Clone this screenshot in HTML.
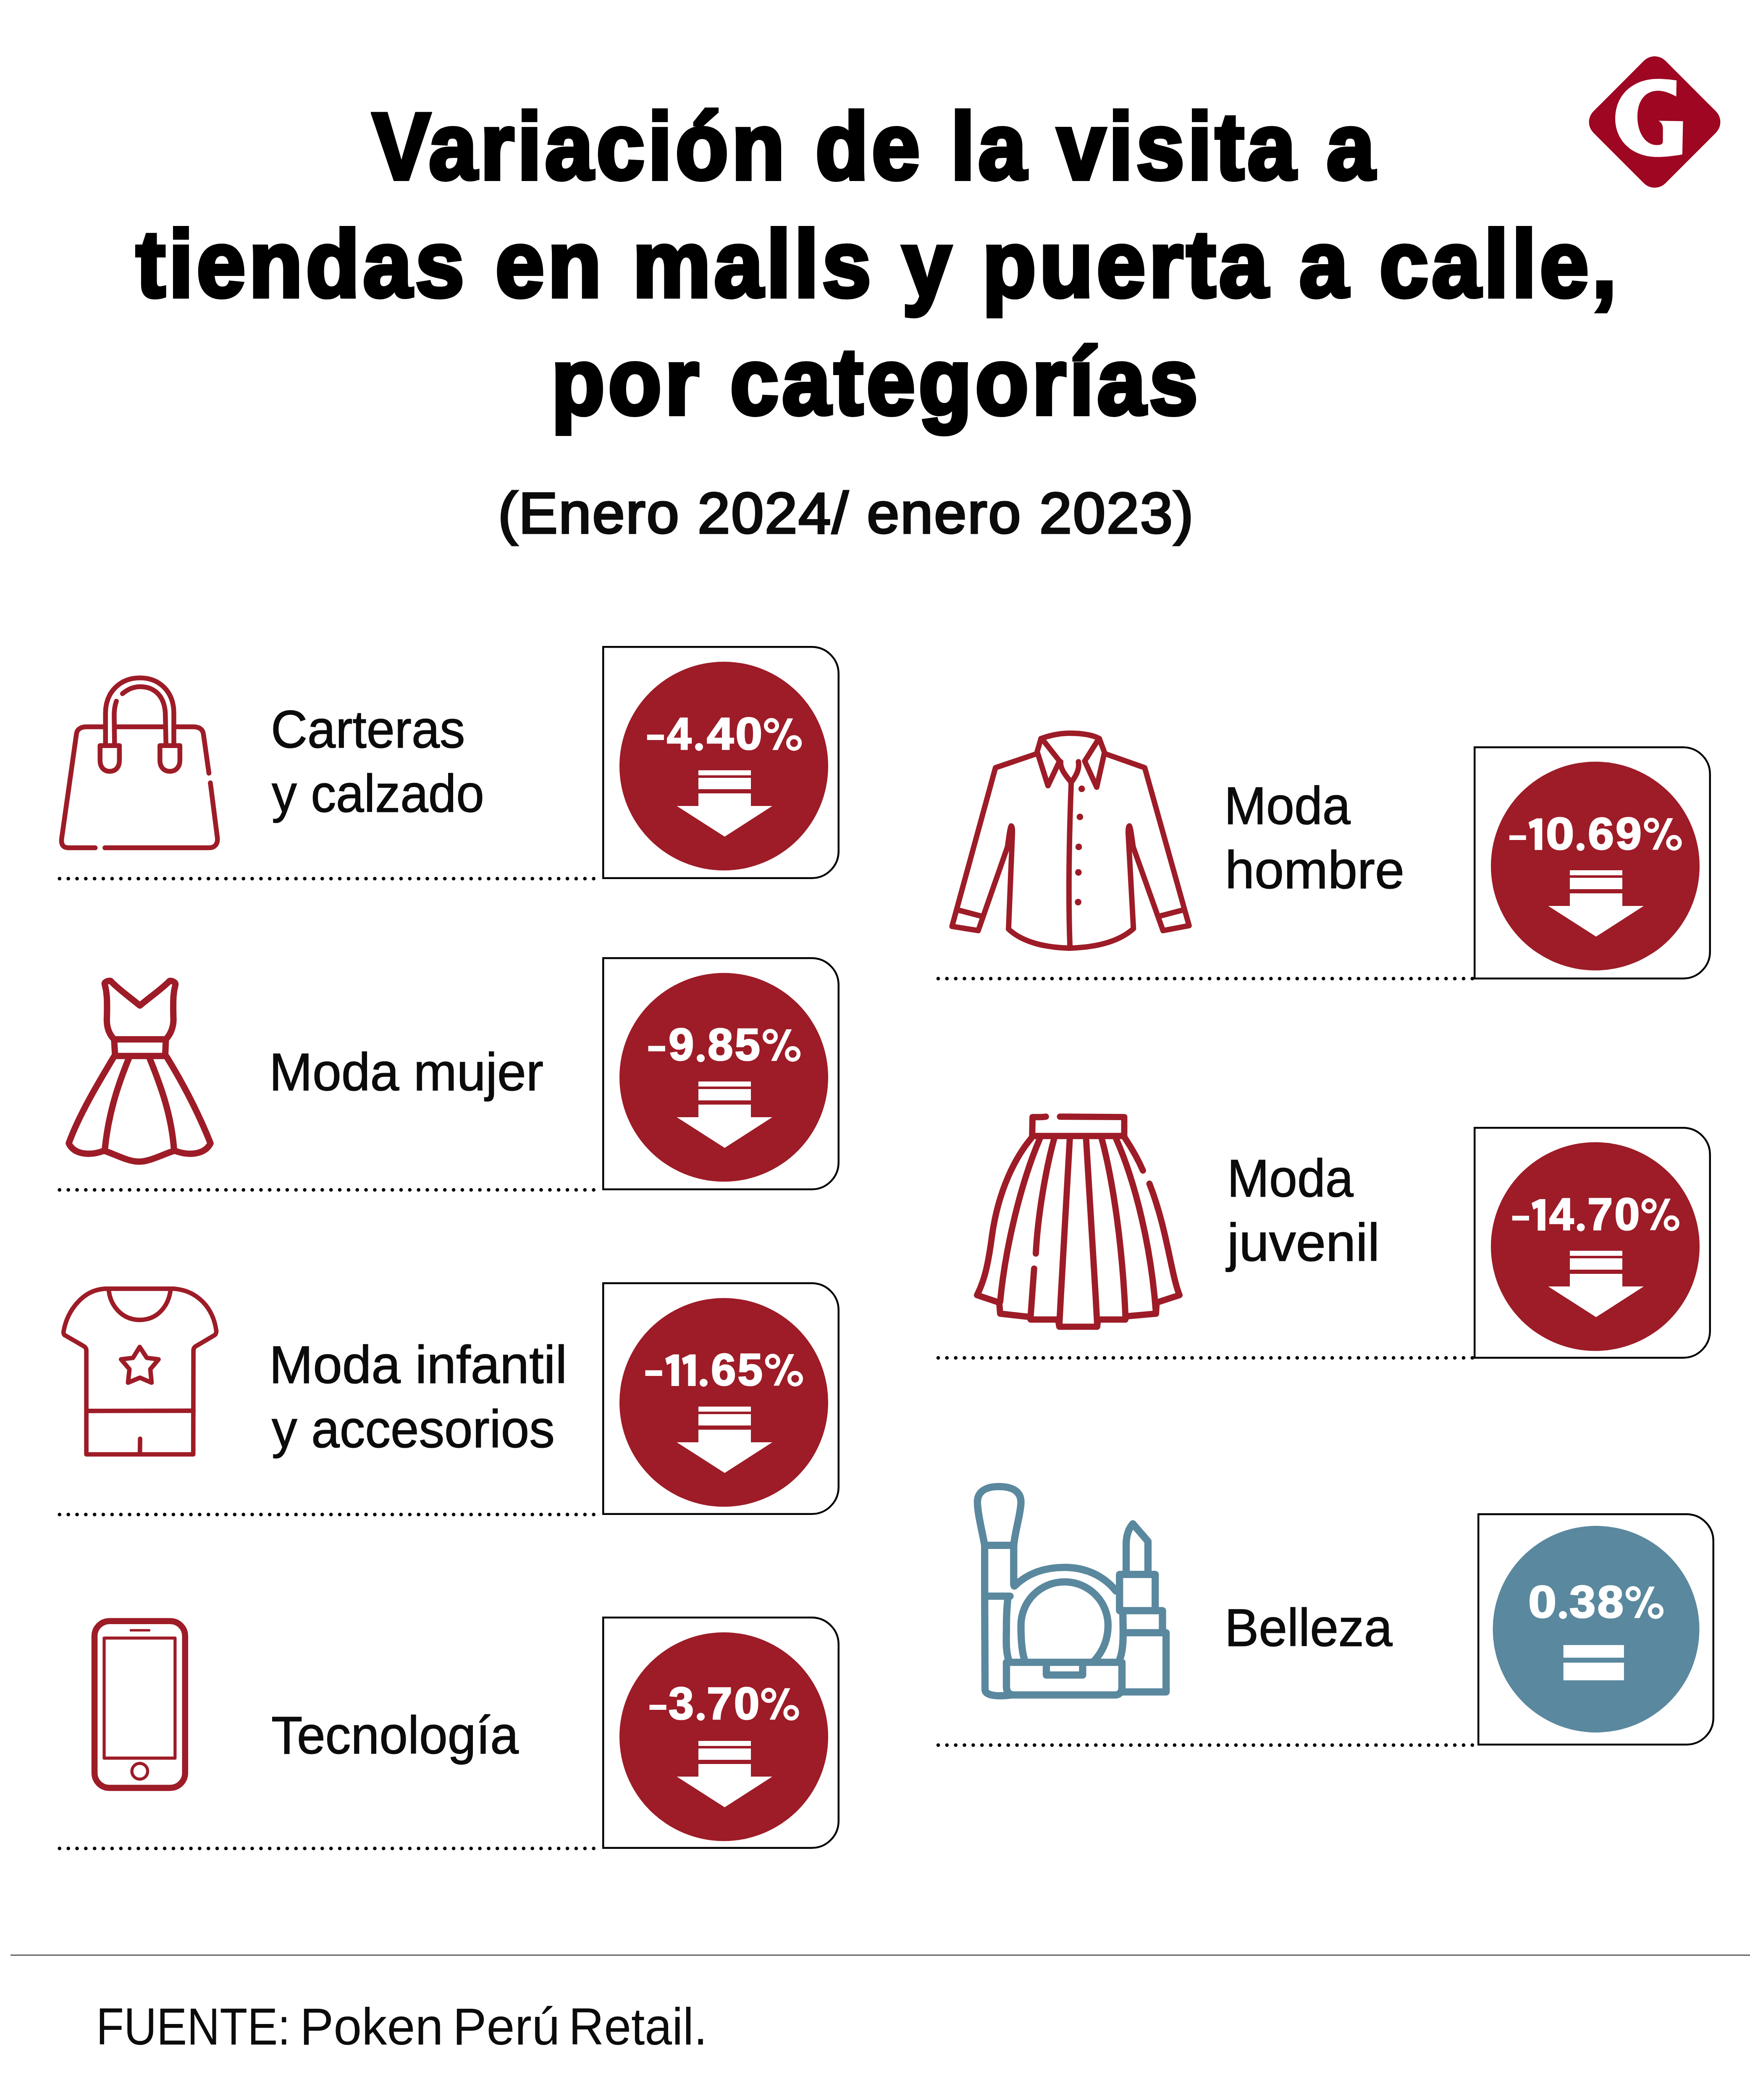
<!DOCTYPE html>
<html><head><meta charset="utf-8"><style>
html,body{margin:0;padding:0;background:#fff}
body{width:4167px;height:5066px;position:relative;overflow:hidden;font-family:"Liberation Sans",sans-serif}
.t{position:absolute;line-height:1;white-space:nowrap;transform-origin:0 0}
svg{overflow:visible}
</style></head><body>
<svg width="4167" height="5066" style="position:absolute;left:0;top:0">
<path d="M1436.25 1540.25 L1932.75 1540.25 A64 64 0 0 1 1996.75 1604.25 L1996.75 2026.75 A64 64 0 0 1 1932.75 2090.75 L1436.25 2090.75 Z" fill="none" stroke="#000" stroke-width="4.5"/><circle cx="1723.5" cy="1824" r="248.5" fill="#9d1c27"/><g fill="#fff"><rect x="1663.0" y="1834" width="125" height="12"/><rect x="1663.0" y="1852" width="125" height="27"/><path d="M1663.0 1889 H1788.0 V1919 H1839.0 L1725.5 1992 L1611.5 1919 H1663.0 Z"/></g><g fill="#000"><circle cx="141.8" cy="2092" r="4.3"/><circle cx="162.7" cy="2092" r="4.3"/><circle cx="183.5" cy="2092" r="4.3"/><circle cx="204.3" cy="2092" r="4.3"/><circle cx="225.2" cy="2092" r="4.3"/><circle cx="246.0" cy="2092" r="4.3"/><circle cx="266.9" cy="2092" r="4.3"/><circle cx="287.8" cy="2092" r="4.3"/><circle cx="308.6" cy="2092" r="4.3"/><circle cx="329.5" cy="2092" r="4.3"/><circle cx="350.3" cy="2092" r="4.3"/><circle cx="371.2" cy="2092" r="4.3"/><circle cx="392.0" cy="2092" r="4.3"/><circle cx="412.9" cy="2092" r="4.3"/><circle cx="433.7" cy="2092" r="4.3"/><circle cx="454.6" cy="2092" r="4.3"/><circle cx="475.4" cy="2092" r="4.3"/><circle cx="496.3" cy="2092" r="4.3"/><circle cx="517.1" cy="2092" r="4.3"/><circle cx="538.0" cy="2092" r="4.3"/><circle cx="558.8" cy="2092" r="4.3"/><circle cx="579.7" cy="2092" r="4.3"/><circle cx="600.5" cy="2092" r="4.3"/><circle cx="621.4" cy="2092" r="4.3"/><circle cx="642.2" cy="2092" r="4.3"/><circle cx="663.1" cy="2092" r="4.3"/><circle cx="683.9" cy="2092" r="4.3"/><circle cx="704.8" cy="2092" r="4.3"/><circle cx="725.6" cy="2092" r="4.3"/><circle cx="746.5" cy="2092" r="4.3"/><circle cx="767.3" cy="2092" r="4.3"/><circle cx="788.2" cy="2092" r="4.3"/><circle cx="809.0" cy="2092" r="4.3"/><circle cx="829.9" cy="2092" r="4.3"/><circle cx="850.7" cy="2092" r="4.3"/><circle cx="871.6" cy="2092" r="4.3"/><circle cx="892.4" cy="2092" r="4.3"/><circle cx="913.3" cy="2092" r="4.3"/><circle cx="934.1" cy="2092" r="4.3"/><circle cx="955.0" cy="2092" r="4.3"/><circle cx="975.8" cy="2092" r="4.3"/><circle cx="996.7" cy="2092" r="4.3"/><circle cx="1017.5" cy="2092" r="4.3"/><circle cx="1038.4" cy="2092" r="4.3"/><circle cx="1059.2" cy="2092" r="4.3"/><circle cx="1080.1" cy="2092" r="4.3"/><circle cx="1100.9" cy="2092" r="4.3"/><circle cx="1121.8" cy="2092" r="4.3"/><circle cx="1142.6" cy="2092" r="4.3"/><circle cx="1163.5" cy="2092" r="4.3"/><circle cx="1184.3" cy="2092" r="4.3"/><circle cx="1205.2" cy="2092" r="4.3"/><circle cx="1226.0" cy="2092" r="4.3"/><circle cx="1246.8" cy="2092" r="4.3"/><circle cx="1267.7" cy="2092" r="4.3"/><circle cx="1288.5" cy="2092" r="4.3"/><circle cx="1309.4" cy="2092" r="4.3"/><circle cx="1330.2" cy="2092" r="4.3"/><circle cx="1351.1" cy="2092" r="4.3"/><circle cx="1371.9" cy="2092" r="4.3"/><circle cx="1392.8" cy="2092" r="4.3"/><circle cx="1413.6" cy="2092" r="4.3"/></g><path d="M1436.25 2281.25 L1932.75 2281.25 A64 64 0 0 1 1996.75 2345.25 L1996.75 2767.75 A64 64 0 0 1 1932.75 2831.75 L1436.25 2831.75 Z" fill="none" stroke="#000" stroke-width="4.5"/><circle cx="1723.5" cy="2565" r="248.5" fill="#9d1c27"/><g fill="#fff"><rect x="1663.0" y="2575" width="125" height="12"/><rect x="1663.0" y="2593" width="125" height="27"/><path d="M1663.0 2630 H1788.0 V2660 H1839.0 L1725.5 2733 L1611.5 2660 H1663.0 Z"/></g><g fill="#000"><circle cx="141.8" cy="2833" r="4.3"/><circle cx="162.7" cy="2833" r="4.3"/><circle cx="183.5" cy="2833" r="4.3"/><circle cx="204.3" cy="2833" r="4.3"/><circle cx="225.2" cy="2833" r="4.3"/><circle cx="246.0" cy="2833" r="4.3"/><circle cx="266.9" cy="2833" r="4.3"/><circle cx="287.8" cy="2833" r="4.3"/><circle cx="308.6" cy="2833" r="4.3"/><circle cx="329.5" cy="2833" r="4.3"/><circle cx="350.3" cy="2833" r="4.3"/><circle cx="371.2" cy="2833" r="4.3"/><circle cx="392.0" cy="2833" r="4.3"/><circle cx="412.9" cy="2833" r="4.3"/><circle cx="433.7" cy="2833" r="4.3"/><circle cx="454.6" cy="2833" r="4.3"/><circle cx="475.4" cy="2833" r="4.3"/><circle cx="496.3" cy="2833" r="4.3"/><circle cx="517.1" cy="2833" r="4.3"/><circle cx="538.0" cy="2833" r="4.3"/><circle cx="558.8" cy="2833" r="4.3"/><circle cx="579.7" cy="2833" r="4.3"/><circle cx="600.5" cy="2833" r="4.3"/><circle cx="621.4" cy="2833" r="4.3"/><circle cx="642.2" cy="2833" r="4.3"/><circle cx="663.1" cy="2833" r="4.3"/><circle cx="683.9" cy="2833" r="4.3"/><circle cx="704.8" cy="2833" r="4.3"/><circle cx="725.6" cy="2833" r="4.3"/><circle cx="746.5" cy="2833" r="4.3"/><circle cx="767.3" cy="2833" r="4.3"/><circle cx="788.2" cy="2833" r="4.3"/><circle cx="809.0" cy="2833" r="4.3"/><circle cx="829.9" cy="2833" r="4.3"/><circle cx="850.7" cy="2833" r="4.3"/><circle cx="871.6" cy="2833" r="4.3"/><circle cx="892.4" cy="2833" r="4.3"/><circle cx="913.3" cy="2833" r="4.3"/><circle cx="934.1" cy="2833" r="4.3"/><circle cx="955.0" cy="2833" r="4.3"/><circle cx="975.8" cy="2833" r="4.3"/><circle cx="996.7" cy="2833" r="4.3"/><circle cx="1017.5" cy="2833" r="4.3"/><circle cx="1038.4" cy="2833" r="4.3"/><circle cx="1059.2" cy="2833" r="4.3"/><circle cx="1080.1" cy="2833" r="4.3"/><circle cx="1100.9" cy="2833" r="4.3"/><circle cx="1121.8" cy="2833" r="4.3"/><circle cx="1142.6" cy="2833" r="4.3"/><circle cx="1163.5" cy="2833" r="4.3"/><circle cx="1184.3" cy="2833" r="4.3"/><circle cx="1205.2" cy="2833" r="4.3"/><circle cx="1226.0" cy="2833" r="4.3"/><circle cx="1246.8" cy="2833" r="4.3"/><circle cx="1267.7" cy="2833" r="4.3"/><circle cx="1288.5" cy="2833" r="4.3"/><circle cx="1309.4" cy="2833" r="4.3"/><circle cx="1330.2" cy="2833" r="4.3"/><circle cx="1351.1" cy="2833" r="4.3"/><circle cx="1371.9" cy="2833" r="4.3"/><circle cx="1392.8" cy="2833" r="4.3"/><circle cx="1413.6" cy="2833" r="4.3"/></g><path d="M1436.25 3055.25 L1932.75 3055.25 A64 64 0 0 1 1996.75 3119.25 L1996.75 3540.75 A64 64 0 0 1 1932.75 3604.75 L1436.25 3604.75 Z" fill="none" stroke="#000" stroke-width="4.5"/><circle cx="1723.5" cy="3339" r="248.5" fill="#9d1c27"/><g fill="#fff"><rect x="1663.0" y="3349" width="125" height="12"/><rect x="1663.0" y="3367" width="125" height="27"/><path d="M1663.0 3404 H1788.0 V3434 H1839.0 L1725.5 3507 L1611.5 3434 H1663.0 Z"/></g><g fill="#000"><circle cx="141.8" cy="3606" r="4.3"/><circle cx="162.7" cy="3606" r="4.3"/><circle cx="183.5" cy="3606" r="4.3"/><circle cx="204.3" cy="3606" r="4.3"/><circle cx="225.2" cy="3606" r="4.3"/><circle cx="246.0" cy="3606" r="4.3"/><circle cx="266.9" cy="3606" r="4.3"/><circle cx="287.8" cy="3606" r="4.3"/><circle cx="308.6" cy="3606" r="4.3"/><circle cx="329.5" cy="3606" r="4.3"/><circle cx="350.3" cy="3606" r="4.3"/><circle cx="371.2" cy="3606" r="4.3"/><circle cx="392.0" cy="3606" r="4.3"/><circle cx="412.9" cy="3606" r="4.3"/><circle cx="433.7" cy="3606" r="4.3"/><circle cx="454.6" cy="3606" r="4.3"/><circle cx="475.4" cy="3606" r="4.3"/><circle cx="496.3" cy="3606" r="4.3"/><circle cx="517.1" cy="3606" r="4.3"/><circle cx="538.0" cy="3606" r="4.3"/><circle cx="558.8" cy="3606" r="4.3"/><circle cx="579.7" cy="3606" r="4.3"/><circle cx="600.5" cy="3606" r="4.3"/><circle cx="621.4" cy="3606" r="4.3"/><circle cx="642.2" cy="3606" r="4.3"/><circle cx="663.1" cy="3606" r="4.3"/><circle cx="683.9" cy="3606" r="4.3"/><circle cx="704.8" cy="3606" r="4.3"/><circle cx="725.6" cy="3606" r="4.3"/><circle cx="746.5" cy="3606" r="4.3"/><circle cx="767.3" cy="3606" r="4.3"/><circle cx="788.2" cy="3606" r="4.3"/><circle cx="809.0" cy="3606" r="4.3"/><circle cx="829.9" cy="3606" r="4.3"/><circle cx="850.7" cy="3606" r="4.3"/><circle cx="871.6" cy="3606" r="4.3"/><circle cx="892.4" cy="3606" r="4.3"/><circle cx="913.3" cy="3606" r="4.3"/><circle cx="934.1" cy="3606" r="4.3"/><circle cx="955.0" cy="3606" r="4.3"/><circle cx="975.8" cy="3606" r="4.3"/><circle cx="996.7" cy="3606" r="4.3"/><circle cx="1017.5" cy="3606" r="4.3"/><circle cx="1038.4" cy="3606" r="4.3"/><circle cx="1059.2" cy="3606" r="4.3"/><circle cx="1080.1" cy="3606" r="4.3"/><circle cx="1100.9" cy="3606" r="4.3"/><circle cx="1121.8" cy="3606" r="4.3"/><circle cx="1142.6" cy="3606" r="4.3"/><circle cx="1163.5" cy="3606" r="4.3"/><circle cx="1184.3" cy="3606" r="4.3"/><circle cx="1205.2" cy="3606" r="4.3"/><circle cx="1226.0" cy="3606" r="4.3"/><circle cx="1246.8" cy="3606" r="4.3"/><circle cx="1267.7" cy="3606" r="4.3"/><circle cx="1288.5" cy="3606" r="4.3"/><circle cx="1309.4" cy="3606" r="4.3"/><circle cx="1330.2" cy="3606" r="4.3"/><circle cx="1351.1" cy="3606" r="4.3"/><circle cx="1371.9" cy="3606" r="4.3"/><circle cx="1392.8" cy="3606" r="4.3"/><circle cx="1413.6" cy="3606" r="4.3"/></g><path d="M1436.25 3851.25 L1932.75 3851.25 A64 64 0 0 1 1996.75 3915.25 L1996.75 4335.75 A64 64 0 0 1 1932.75 4399.75 L1436.25 4399.75 Z" fill="none" stroke="#000" stroke-width="4.5"/><circle cx="1723.5" cy="4135" r="248.5" fill="#9d1c27"/><g fill="#fff"><rect x="1663.0" y="4145" width="125" height="12"/><rect x="1663.0" y="4163" width="125" height="27"/><path d="M1663.0 4200 H1788.0 V4230 H1839.0 L1725.5 4303 L1611.5 4230 H1663.0 Z"/></g><g fill="#000"><circle cx="141.8" cy="4401" r="4.3"/><circle cx="162.7" cy="4401" r="4.3"/><circle cx="183.5" cy="4401" r="4.3"/><circle cx="204.3" cy="4401" r="4.3"/><circle cx="225.2" cy="4401" r="4.3"/><circle cx="246.0" cy="4401" r="4.3"/><circle cx="266.9" cy="4401" r="4.3"/><circle cx="287.8" cy="4401" r="4.3"/><circle cx="308.6" cy="4401" r="4.3"/><circle cx="329.5" cy="4401" r="4.3"/><circle cx="350.3" cy="4401" r="4.3"/><circle cx="371.2" cy="4401" r="4.3"/><circle cx="392.0" cy="4401" r="4.3"/><circle cx="412.9" cy="4401" r="4.3"/><circle cx="433.7" cy="4401" r="4.3"/><circle cx="454.6" cy="4401" r="4.3"/><circle cx="475.4" cy="4401" r="4.3"/><circle cx="496.3" cy="4401" r="4.3"/><circle cx="517.1" cy="4401" r="4.3"/><circle cx="538.0" cy="4401" r="4.3"/><circle cx="558.8" cy="4401" r="4.3"/><circle cx="579.7" cy="4401" r="4.3"/><circle cx="600.5" cy="4401" r="4.3"/><circle cx="621.4" cy="4401" r="4.3"/><circle cx="642.2" cy="4401" r="4.3"/><circle cx="663.1" cy="4401" r="4.3"/><circle cx="683.9" cy="4401" r="4.3"/><circle cx="704.8" cy="4401" r="4.3"/><circle cx="725.6" cy="4401" r="4.3"/><circle cx="746.5" cy="4401" r="4.3"/><circle cx="767.3" cy="4401" r="4.3"/><circle cx="788.2" cy="4401" r="4.3"/><circle cx="809.0" cy="4401" r="4.3"/><circle cx="829.9" cy="4401" r="4.3"/><circle cx="850.7" cy="4401" r="4.3"/><circle cx="871.6" cy="4401" r="4.3"/><circle cx="892.4" cy="4401" r="4.3"/><circle cx="913.3" cy="4401" r="4.3"/><circle cx="934.1" cy="4401" r="4.3"/><circle cx="955.0" cy="4401" r="4.3"/><circle cx="975.8" cy="4401" r="4.3"/><circle cx="996.7" cy="4401" r="4.3"/><circle cx="1017.5" cy="4401" r="4.3"/><circle cx="1038.4" cy="4401" r="4.3"/><circle cx="1059.2" cy="4401" r="4.3"/><circle cx="1080.1" cy="4401" r="4.3"/><circle cx="1100.9" cy="4401" r="4.3"/><circle cx="1121.8" cy="4401" r="4.3"/><circle cx="1142.6" cy="4401" r="4.3"/><circle cx="1163.5" cy="4401" r="4.3"/><circle cx="1184.3" cy="4401" r="4.3"/><circle cx="1205.2" cy="4401" r="4.3"/><circle cx="1226.0" cy="4401" r="4.3"/><circle cx="1246.8" cy="4401" r="4.3"/><circle cx="1267.7" cy="4401" r="4.3"/><circle cx="1288.5" cy="4401" r="4.3"/><circle cx="1309.4" cy="4401" r="4.3"/><circle cx="1330.2" cy="4401" r="4.3"/><circle cx="1351.1" cy="4401" r="4.3"/><circle cx="1371.9" cy="4401" r="4.3"/><circle cx="1392.8" cy="4401" r="4.3"/><circle cx="1413.6" cy="4401" r="4.3"/></g><path d="M3511.25 1779.25 L4007.75 1779.25 A64 64 0 0 1 4071.75 1843.25 L4071.75 2265.75 A64 64 0 0 1 4007.75 2329.75 L3511.25 2329.75 Z" fill="none" stroke="#000" stroke-width="4.5"/><circle cx="3798.5" cy="2062" r="248.5" fill="#9d1c27"/><g fill="#fff"><rect x="3738.0" y="2072" width="125" height="12"/><rect x="3738.0" y="2090" width="125" height="27"/><path d="M3738.0 2127 H3863.0 V2157 H3914.0 L3800.5 2230 L3686.5 2157 H3738.0 Z"/></g><g fill="#000"><circle cx="2234.0" cy="2330" r="4.3"/><circle cx="2254.8" cy="2330" r="4.3"/><circle cx="2275.7" cy="2330" r="4.3"/><circle cx="2296.5" cy="2330" r="4.3"/><circle cx="2317.4" cy="2330" r="4.3"/><circle cx="2338.2" cy="2330" r="4.3"/><circle cx="2359.1" cy="2330" r="4.3"/><circle cx="2379.9" cy="2330" r="4.3"/><circle cx="2400.8" cy="2330" r="4.3"/><circle cx="2421.6" cy="2330" r="4.3"/><circle cx="2442.5" cy="2330" r="4.3"/><circle cx="2463.3" cy="2330" r="4.3"/><circle cx="2484.2" cy="2330" r="4.3"/><circle cx="2505.0" cy="2330" r="4.3"/><circle cx="2525.9" cy="2330" r="4.3"/><circle cx="2546.7" cy="2330" r="4.3"/><circle cx="2567.6" cy="2330" r="4.3"/><circle cx="2588.4" cy="2330" r="4.3"/><circle cx="2609.3" cy="2330" r="4.3"/><circle cx="2630.1" cy="2330" r="4.3"/><circle cx="2651.0" cy="2330" r="4.3"/><circle cx="2671.8" cy="2330" r="4.3"/><circle cx="2692.7" cy="2330" r="4.3"/><circle cx="2713.5" cy="2330" r="4.3"/><circle cx="2734.4" cy="2330" r="4.3"/><circle cx="2755.2" cy="2330" r="4.3"/><circle cx="2776.1" cy="2330" r="4.3"/><circle cx="2796.9" cy="2330" r="4.3"/><circle cx="2817.8" cy="2330" r="4.3"/><circle cx="2838.6" cy="2330" r="4.3"/><circle cx="2859.5" cy="2330" r="4.3"/><circle cx="2880.3" cy="2330" r="4.3"/><circle cx="2901.2" cy="2330" r="4.3"/><circle cx="2922.0" cy="2330" r="4.3"/><circle cx="2942.9" cy="2330" r="4.3"/><circle cx="2963.7" cy="2330" r="4.3"/><circle cx="2984.6" cy="2330" r="4.3"/><circle cx="3005.4" cy="2330" r="4.3"/><circle cx="3026.3" cy="2330" r="4.3"/><circle cx="3047.1" cy="2330" r="4.3"/><circle cx="3068.0" cy="2330" r="4.3"/><circle cx="3088.8" cy="2330" r="4.3"/><circle cx="3109.7" cy="2330" r="4.3"/><circle cx="3130.5" cy="2330" r="4.3"/><circle cx="3151.4" cy="2330" r="4.3"/><circle cx="3172.2" cy="2330" r="4.3"/><circle cx="3193.1" cy="2330" r="4.3"/><circle cx="3213.9" cy="2330" r="4.3"/><circle cx="3234.8" cy="2330" r="4.3"/><circle cx="3255.6" cy="2330" r="4.3"/><circle cx="3276.5" cy="2330" r="4.3"/><circle cx="3297.3" cy="2330" r="4.3"/><circle cx="3318.2" cy="2330" r="4.3"/><circle cx="3339.0" cy="2330" r="4.3"/><circle cx="3359.9" cy="2330" r="4.3"/><circle cx="3380.7" cy="2330" r="4.3"/><circle cx="3401.6" cy="2330" r="4.3"/><circle cx="3422.4" cy="2330" r="4.3"/><circle cx="3443.3" cy="2330" r="4.3"/><circle cx="3464.1" cy="2330" r="4.3"/><circle cx="3485.0" cy="2330" r="4.3"/><circle cx="3505.8" cy="2330" r="4.3"/></g><path d="M3511.25 2685.25 L4007.75 2685.25 A64 64 0 0 1 4071.75 2749.25 L4071.75 3168.75 A64 64 0 0 1 4007.75 3232.75 L3511.25 3232.75 Z" fill="none" stroke="#000" stroke-width="4.5"/><circle cx="3798.5" cy="2968" r="248.5" fill="#9d1c27"/><g fill="#fff"><rect x="3738.0" y="2978" width="125" height="12"/><rect x="3738.0" y="2996" width="125" height="27"/><path d="M3738.0 3033 H3863.0 V3063 H3914.0 L3800.5 3136 L3686.5 3063 H3738.0 Z"/></g><g fill="#000"><circle cx="2234.0" cy="3233" r="4.3"/><circle cx="2254.8" cy="3233" r="4.3"/><circle cx="2275.7" cy="3233" r="4.3"/><circle cx="2296.5" cy="3233" r="4.3"/><circle cx="2317.4" cy="3233" r="4.3"/><circle cx="2338.2" cy="3233" r="4.3"/><circle cx="2359.1" cy="3233" r="4.3"/><circle cx="2379.9" cy="3233" r="4.3"/><circle cx="2400.8" cy="3233" r="4.3"/><circle cx="2421.6" cy="3233" r="4.3"/><circle cx="2442.5" cy="3233" r="4.3"/><circle cx="2463.3" cy="3233" r="4.3"/><circle cx="2484.2" cy="3233" r="4.3"/><circle cx="2505.0" cy="3233" r="4.3"/><circle cx="2525.9" cy="3233" r="4.3"/><circle cx="2546.7" cy="3233" r="4.3"/><circle cx="2567.6" cy="3233" r="4.3"/><circle cx="2588.4" cy="3233" r="4.3"/><circle cx="2609.3" cy="3233" r="4.3"/><circle cx="2630.1" cy="3233" r="4.3"/><circle cx="2651.0" cy="3233" r="4.3"/><circle cx="2671.8" cy="3233" r="4.3"/><circle cx="2692.7" cy="3233" r="4.3"/><circle cx="2713.5" cy="3233" r="4.3"/><circle cx="2734.4" cy="3233" r="4.3"/><circle cx="2755.2" cy="3233" r="4.3"/><circle cx="2776.1" cy="3233" r="4.3"/><circle cx="2796.9" cy="3233" r="4.3"/><circle cx="2817.8" cy="3233" r="4.3"/><circle cx="2838.6" cy="3233" r="4.3"/><circle cx="2859.5" cy="3233" r="4.3"/><circle cx="2880.3" cy="3233" r="4.3"/><circle cx="2901.2" cy="3233" r="4.3"/><circle cx="2922.0" cy="3233" r="4.3"/><circle cx="2942.9" cy="3233" r="4.3"/><circle cx="2963.7" cy="3233" r="4.3"/><circle cx="2984.6" cy="3233" r="4.3"/><circle cx="3005.4" cy="3233" r="4.3"/><circle cx="3026.3" cy="3233" r="4.3"/><circle cx="3047.1" cy="3233" r="4.3"/><circle cx="3068.0" cy="3233" r="4.3"/><circle cx="3088.8" cy="3233" r="4.3"/><circle cx="3109.7" cy="3233" r="4.3"/><circle cx="3130.5" cy="3233" r="4.3"/><circle cx="3151.4" cy="3233" r="4.3"/><circle cx="3172.2" cy="3233" r="4.3"/><circle cx="3193.1" cy="3233" r="4.3"/><circle cx="3213.9" cy="3233" r="4.3"/><circle cx="3234.8" cy="3233" r="4.3"/><circle cx="3255.6" cy="3233" r="4.3"/><circle cx="3276.5" cy="3233" r="4.3"/><circle cx="3297.3" cy="3233" r="4.3"/><circle cx="3318.2" cy="3233" r="4.3"/><circle cx="3339.0" cy="3233" r="4.3"/><circle cx="3359.9" cy="3233" r="4.3"/><circle cx="3380.7" cy="3233" r="4.3"/><circle cx="3401.6" cy="3233" r="4.3"/><circle cx="3422.4" cy="3233" r="4.3"/><circle cx="3443.3" cy="3233" r="4.3"/><circle cx="3464.1" cy="3233" r="4.3"/><circle cx="3485.0" cy="3233" r="4.3"/><circle cx="3505.8" cy="3233" r="4.3"/></g><path d="M3520.25 3605.25 L4015.75 3605.25 A64 64 0 0 1 4079.75 3669.25 L4079.75 4089.75 A64 64 0 0 1 4015.75 4153.75 L3520.25 4153.75 Z" fill="none" stroke="#000" stroke-width="4.5"/><circle cx="3800.5" cy="3879" r="246" fill="#5a889e"/><rect x="3722.7" y="3916.8" width="144.2" height="30" fill="#fff"/><rect x="3722.7" y="3958.7" width="144.2" height="42" fill="#fff"/><g fill="#000"><circle cx="2234.0" cy="4155" r="4.3"/><circle cx="2254.8" cy="4155" r="4.3"/><circle cx="2275.7" cy="4155" r="4.3"/><circle cx="2296.5" cy="4155" r="4.3"/><circle cx="2317.4" cy="4155" r="4.3"/><circle cx="2338.2" cy="4155" r="4.3"/><circle cx="2359.1" cy="4155" r="4.3"/><circle cx="2379.9" cy="4155" r="4.3"/><circle cx="2400.8" cy="4155" r="4.3"/><circle cx="2421.6" cy="4155" r="4.3"/><circle cx="2442.5" cy="4155" r="4.3"/><circle cx="2463.3" cy="4155" r="4.3"/><circle cx="2484.2" cy="4155" r="4.3"/><circle cx="2505.0" cy="4155" r="4.3"/><circle cx="2525.9" cy="4155" r="4.3"/><circle cx="2546.7" cy="4155" r="4.3"/><circle cx="2567.6" cy="4155" r="4.3"/><circle cx="2588.4" cy="4155" r="4.3"/><circle cx="2609.3" cy="4155" r="4.3"/><circle cx="2630.1" cy="4155" r="4.3"/><circle cx="2651.0" cy="4155" r="4.3"/><circle cx="2671.8" cy="4155" r="4.3"/><circle cx="2692.7" cy="4155" r="4.3"/><circle cx="2713.5" cy="4155" r="4.3"/><circle cx="2734.4" cy="4155" r="4.3"/><circle cx="2755.2" cy="4155" r="4.3"/><circle cx="2776.1" cy="4155" r="4.3"/><circle cx="2796.9" cy="4155" r="4.3"/><circle cx="2817.8" cy="4155" r="4.3"/><circle cx="2838.6" cy="4155" r="4.3"/><circle cx="2859.5" cy="4155" r="4.3"/><circle cx="2880.3" cy="4155" r="4.3"/><circle cx="2901.2" cy="4155" r="4.3"/><circle cx="2922.0" cy="4155" r="4.3"/><circle cx="2942.9" cy="4155" r="4.3"/><circle cx="2963.7" cy="4155" r="4.3"/><circle cx="2984.6" cy="4155" r="4.3"/><circle cx="3005.4" cy="4155" r="4.3"/><circle cx="3026.3" cy="4155" r="4.3"/><circle cx="3047.1" cy="4155" r="4.3"/><circle cx="3068.0" cy="4155" r="4.3"/><circle cx="3088.8" cy="4155" r="4.3"/><circle cx="3109.7" cy="4155" r="4.3"/><circle cx="3130.5" cy="4155" r="4.3"/><circle cx="3151.4" cy="4155" r="4.3"/><circle cx="3172.2" cy="4155" r="4.3"/><circle cx="3193.1" cy="4155" r="4.3"/><circle cx="3213.9" cy="4155" r="4.3"/><circle cx="3234.8" cy="4155" r="4.3"/><circle cx="3255.6" cy="4155" r="4.3"/><circle cx="3276.5" cy="4155" r="4.3"/><circle cx="3297.3" cy="4155" r="4.3"/><circle cx="3318.2" cy="4155" r="4.3"/><circle cx="3339.0" cy="4155" r="4.3"/><circle cx="3359.9" cy="4155" r="4.3"/><circle cx="3380.7" cy="4155" r="4.3"/><circle cx="3401.6" cy="4155" r="4.3"/><circle cx="3422.4" cy="4155" r="4.3"/><circle cx="3443.3" cy="4155" r="4.3"/><circle cx="3464.1" cy="4155" r="4.3"/><circle cx="3485.0" cy="4155" r="4.3"/><circle cx="3505.8" cy="4155" r="4.3"/></g><rect x="1540.8" y="1749" width="40.1" height="13.0" fill="#fff"/><rect x="1543.6" y="2490.2" width="40.2" height="13.0" fill="#fff"/><rect x="1536.5" y="3262.6" width="40.2" height="13.4" fill="#fff"/><rect x="1546.5" y="4059" width="40.1" height="12.0" fill="#fff"/><rect x="3594" y="1988.8" width="39.7" height="11.2" fill="#fff"/><rect x="3600.8" y="2894.6" width="40.0" height="11.4" fill="#fff"/><circle cx="1837.0" cy="1727.6" r="13.4" fill="none" stroke="#fff" stroke-width="9.2"/><circle cx="1890.6" cy="1769.1" r="13.95" fill="none" stroke="#fff" stroke-width="9.3"/><path d="M1839.2 1785.7 L1852.0 1785.7 L1888.3 1710.5 L1875.2 1710.5 Z" fill="#fff"/><circle cx="1834.0" cy="2467.8" r="13.4" fill="none" stroke="#fff" stroke-width="9.2"/><circle cx="1887.6" cy="2509.3" r="13.95" fill="none" stroke="#fff" stroke-width="9.3"/><path d="M1836.2 2525.9 L1849.0 2525.9 L1885.3 2450.7 L1872.2 2450.7 Z" fill="#fff"/><circle cx="1839.8" cy="3241.2" r="13.4" fill="none" stroke="#fff" stroke-width="9.2"/><circle cx="1893.4" cy="3282.7" r="13.95" fill="none" stroke="#fff" stroke-width="9.3"/><path d="M1842.0 3299.3 L1854.8 3299.3 L1891.1 3224.1 L1878.0 3224.1 Z" fill="#fff"/><circle cx="1830.4" cy="4036.5" r="13.4" fill="none" stroke="#fff" stroke-width="9.2"/><circle cx="1884.0" cy="4078.0" r="13.95" fill="none" stroke="#fff" stroke-width="9.3"/><path d="M1832.6 4094.6 L1845.4 4094.6 L1881.7 4019.4 L1868.6 4019.4 Z" fill="#fff"/><circle cx="3932.4" cy="1965.1" r="13.4" fill="none" stroke="#fff" stroke-width="9.2"/><circle cx="3986.0" cy="2006.6" r="13.95" fill="none" stroke="#fff" stroke-width="9.3"/><path d="M3934.6 2023.2 L3947.4 2023.2 L3983.7 1948.0 L3970.6 1948.0 Z" fill="#fff"/><circle cx="3926.6" cy="2870.9" r="13.4" fill="none" stroke="#fff" stroke-width="9.2"/><circle cx="3980.2" cy="2912.4" r="13.95" fill="none" stroke="#fff" stroke-width="9.3"/><path d="M3928.8 2929.0 L3941.6 2929.0 L3977.9 2853.8 L3964.8 2853.8 Z" fill="#fff"/><circle cx="3888.9" cy="3794.5" r="13.4" fill="none" stroke="#fff" stroke-width="9.2"/><circle cx="3942.5" cy="3836.0" r="13.95" fill="none" stroke="#fff" stroke-width="9.3"/><path d="M3891.1 3852.6 L3903.9 3852.6 L3940.2 3777.4 L3927.1 3777.4 Z" fill="#fff"/><circle cx="1664.5" cy="1778.4" r="9.5" fill="#fff"/><circle cx="1668.6" cy="2519.5" r="9.5" fill="#fff"/><circle cx="1675.4" cy="3292.3" r="9.5" fill="#fff"/><circle cx="1668.6" cy="4087.4" r="9.5" fill="#fff"/><circle cx="3763.5" cy="2016.5" r="9.5" fill="#fff"/><circle cx="3764.1" cy="2922.2" r="9.5" fill="#fff"/><circle cx="3721.6" cy="3845.2" r="9.5" fill="#fff"/><path fill="#fff" d="M1584.1 3234.0 L1603.2 3224.7 L1616.7 3224.7 L1616.7 3299.9 L1598.7 3299.9 L1598.7 3245.0 L1588.2 3249.7 Z"/><path fill="#fff" d="M1623.8 3234.0 L1642.9 3224.7 L1656.4 3224.7 L1656.4 3299.9 L1638.4 3299.9 L1638.4 3245.0 L1627.9 3249.7 Z"/><path fill="#fff" d="M3639.7 1957.9 L3658.8 1948.6 L3672.3 1948.6 L3672.3 2023.8 L3654.3 2023.8 L3654.3 1968.9 L3643.8 1973.6 Z"/><path fill="#fff" d="M3647.0 2864.2 L3666.1 2854.9 L3679.6 2854.9 L3679.6 2930.1 L3661.6 2930.1 L3661.6 2875.2 L3651.1 2879.9 Z"/><rect x="25" y="4654" width="4142" height="2" fill="#1a1a1a"/>
</svg>
<!-- bag -->
<svg style="position:absolute;left:100px;top:1560px" width="500" height="560" viewBox="0 0 1736 1944">
<g fill="none" stroke="#9d1c27" stroke-width="40" stroke-linecap="round" stroke-linejoin="round">
<path d="M440 1592 L215 1592 C172 1590 158 1562 162 1520 L285 650 C290 612 320 592 370 592 L505 592"/>
<path d="M615 592 L1000 592"/>
<path d="M1110 592 L1250 592 C1300 592 1330 612 1335 655 L1380 975"/>
<path d="M1392 1055 L1450 1510 C1455 1560 1430 1592 1380 1592 L520 1592"/>
<path d="M525 735 L525 480 C525 300 650 187 810 187 C970 187 1090 300 1090 480 L1090 735"/>
<path d="M665 318 C710 280 760 260 810 260 C940 260 1020 350 1020 500 L1025 735"/>
<path d="M615 380 C600 420 595 460 597 520 L600 735"/>
<path d="M480 747 L640 747 L640 870 C640 930 605 960 560 960 C515 960 480 930 480 870 Z"/>
<path d="M975 747 L1140 747 L1140 870 C1140 930 1100 960 1057 960 C1012 960 975 930 975 870 Z"/>
</g></svg>
<!-- dress -->
<svg style="position:absolute;left:130px;top:2310px" width="410" height="490" viewBox="0 0 1736 2075">
<g fill="none" stroke="#9d1c27" stroke-width="64" stroke-linecap="round" stroke-linejoin="round">
<path d="M505 140 C498 118 540 105 565 108 C640 190 760 272 860 357 C960 272 1080 190 1160 108 C1185 105 1222 120 1218 148 C1198 220 1193 280 1198 480 C1203 560 1175 640 1122 697 L600 697 C545 640 522 570 527 480 C532 280 527 220 505 140 Z"/>
<path d="M600 697 L610 865 L1115 865 L1122 697"/>
<path d="M600 870 C450 1120 250 1450 143 1745 C190 1850 340 1880 500 1820 C620 1860 740 1930 850 1930 C960 1930 1080 1860 1210 1820 C1370 1880 1520 1850 1572 1745 C1450 1440 1300 1150 1128 870"/>
<path d="M752 880 C640 1150 540 1450 505 1820"/>
<path d="M955 880 C1060 1140 1180 1450 1205 1820"/>
</g></svg>
<!-- tshirt -->
<svg style="position:absolute;left:130px;top:3050px" width="410" height="430" viewBox="0 0 1736 1821">
<g fill="none" stroke="#9d1c27" stroke-width="45" stroke-linecap="round" stroke-linejoin="round">
<path d="M320 1748 L320 700 C320 680 310 665 290 655 L100 545 C90 535 88 520 92 500 C130 300 280 90 510 78 L1210 78 C1450 100 1600 280 1630 500 C1632 520 1625 540 1610 548 L1420 660 C1405 670 1400 680 1400 700 L1398 1748 Z"/>
<path d="M545 85 C560 250 680 392 860 392 C1040 392 1150 250 1170 85"/>
<path d="M322 1310 L1400 1308"/>
<path d="M860 1748 L862 1590"/>
<path d="M858 665 L930 775 L1048 790 L965 890 L978 1025 L860 975 L740 1025 L755 890 L670 790 L790 775 Z"/>
</g></svg>
<!-- phone -->
<svg style="position:absolute;left:200px;top:3840px" width="270" height="440" viewBox="0 0 1295 2111">
<g fill="none" stroke="#9d1c27" stroke-linecap="round" stroke-linejoin="round">
<rect x="120" y="95" width="1035" height="1905" rx="170" ry="170" stroke-width="70"/>
<rect x="230" y="288" width="810" height="1372" stroke-width="35"/>
<path d="M535 200 L745 200" stroke-width="28"/>
<circle cx="637" cy="1810" r="90" stroke-width="35"/>
</g></svg>
<!-- shirt -->
<svg style="position:absolute;left:2240px;top:1720px" width="620" height="560" viewBox="0 0 1736 1568">
<g fill="none" stroke="#9d1c27" stroke-width="36" stroke-linecap="round" stroke-linejoin="round">
<path d="M668 108 C740 82 800 72 860 72 C950 72 1010 82 1058 108"/>
<path d="M668 110 L643 195 L715 422 L792 258 L690 128"/>
<path d="M1058 110 L1092 200 L1040 432 L960 258 L1042 128"/>
<path d="M800 262 C795 300 820 340 870 400 C915 340 925 300 918 262"/>
<path d="M870 400 C855 800 850 1200 862 1505"/>
<path d="M630 212 L365 302 L75 1360 L250 1388 L445 830 C455 760 462 700 470 690 C478 692 478 720 478 740 L452 1378 C550 1470 700 1500 862 1505 C1020 1500 1180 1470 1285 1375 L1250 740 C1250 720 1250 692 1258 690 C1266 700 1273 760 1283 830 L1482 1388 L1656 1355 L1360 302 L1105 212"/>
<path d="M112 1250 L265 1290"/>
<path d="M1465 1290 L1618 1250"/>
</g>
<g fill="#9d1c27">
<circle cx="940" cy="443" r="22"/><circle cx="928" cy="630" r="22"/><circle cx="920" cy="830" r="22"/><circle cx="918" cy="1000" r="22"/><circle cx="916" cy="1198" r="22"/>
</g></svg>
<!-- skirt -->
<svg style="position:absolute;left:2300px;top:2630px" width="540" height="560" viewBox="0 0 1736 1800">
<g fill="none" stroke="#9d1c27" stroke-width="48" stroke-linecap="round" stroke-linejoin="round">
<path d="M612 92 C580 98 540 95 510 95 L507 240 L1212 240 L1212 95 L720 92"/>
<path d="M502 255 C380 400 250 650 200 1000 C170 1230 140 1350 85 1458 L255 1515 L262 1600 L485 1625 L495 1645 L705 1645 L715 1700 L1005 1700 L1010 1645 L1220 1645 L1230 1620 L1455 1600 L1460 1515 L1635 1458 C1570 1300 1540 950 1405 605"/>
<path d="M1215 252 C1260 320 1310 400 1355 505"/>
<path d="M565 262 C420 600 300 1100 262 1510"/>
<path d="M675 262 C610 500 550 850 535 1140"/>
<path d="M522 1255 L495 1625"/>
<path d="M795 262 C770 700 740 1200 715 1690"/>
<path d="M920 262 C945 700 980 1200 1005 1690"/>
<path d="M1040 262 C1130 600 1200 1100 1222 1635"/>
<path d="M1150 262 C1300 600 1420 1100 1455 1600"/>
</g></svg>
<!-- cosmetics -->
<svg style="position:absolute;left:2300px;top:3510px" width="500" height="560" viewBox="0 0 1736 1944">
<g fill="none" stroke="#5a889e" stroke-width="60" stroke-linecap="round" stroke-linejoin="round">
<path d="M155 588 C130 450 95 320 95 230 C95 140 170 102 270 102 C380 102 455 140 455 230 C455 320 410 450 395 588 Z"/>
<path d="M395 588 L395 915"/>
<path d="M155 588 L155 1010 L158 1780 C160 1830 250 1840 380 1825"/>
<path d="M155 1008 L365 1008"/>
<path d="M400 925 C520 810 660 770 815 770 C990 770 1140 840 1240 965"/>
<path d="M360 1555 C325 1460 335 1380 335 1250 C335 1150 340 1090 345 1040"/>
<path d="M1262 1555 C1290 1490 1300 1430 1300 1300 L1297 1128"/>
<path d="M490 1550 C470 1500 455 1420 455 1250 C455 1050 615 890 815 890 C1015 890 1175 1050 1175 1250 C1175 1380 1120 1480 1055 1550"/>
<path d="M335 1555 L1290 1555 L1290 1760 C1290 1800 1270 1825 1230 1825 L400 1825 C360 1825 335 1800 335 1760 Z"/>
<path d="M665 1555 L665 1660 L965 1660 L965 1555"/>
<path d="M1325 828 L1325 580 C1325 510 1345 450 1380 410 L1505 555 L1505 828"/>
<path d="M1270 1128 L1270 828 L1565 828 L1565 1128"/>
<path d="M1297 1128 L1625 1128 L1625 1310"/>
<path d="M1300 1310 L1655 1310 L1655 1800 L1290 1800"/>
</g></svg>

<div style="position:absolute;left:3750px;top:100px;width:417px;height:400px">
<svg width="417" height="400" viewBox="0 0 1736 1665" style="position:absolute;left:0;top:0">
<rect x="286.5" y="288.5" width="1009" height="1009" rx="150" ry="150" fill="#9e0621" transform="rotate(45 791 793)"/>
<path fill="#fff" d="M1008 380 L1005 540 C940 505 880 483 825 483 C700 483 620 580 620 740 C620 900 700 1020 810 1022 C850 1022 870 1015 872 990 L873 860 C873 820 855 795 830 780 L1072 785 L1065 1115 C990 1128 900 1140 820 1140 C560 1140 400 970 400 760 C400 520 580 365 820 365 C880 365 950 372 1008 380 Z"/>
</svg></div>
<div class="t" style="left:886.7px;top:236.2px;font-size:225.45px;font-weight:bold;color:#000;-webkit-text-stroke:10px #000;letter-spacing:9px;transform:scaleX(0.9132)">Variación de la visita a</div><div class="t" style="left:323.9px;top:515.7px;font-size:225.45px;font-weight:bold;color:#000;-webkit-text-stroke:10px #000;letter-spacing:9px;transform:scaleX(0.9263)">tiendas en malls y puerta a calle,</div><div class="t" style="left:1312.6px;top:795.7px;font-size:225.45px;font-weight:bold;color:#000;-webkit-text-stroke:10px #000;letter-spacing:9px;transform:scaleX(0.9212)">por categorías</div><div class="t" style="left:1185.8px;top:1153.8px;font-size:136.73px;font-weight:normal;color:#0b0b0b;-webkit-text-stroke:5px #0b0b0b;letter-spacing:3px;transform:scaleX(1.0125)">(Enero 2024/ enero 2023)</div><div class="t" style="left:645.1px;top:1672.9px;font-size:126.82px;font-weight:normal;color:#0b0b0b;-webkit-text-stroke:1.5px #0b0b0b;letter-spacing:0px;transform:scaleX(0.9509)">Carteras</div><div class="t" style="left:646.7px;top:1825.9px;font-size:126.82px;font-weight:normal;color:#0b0b0b;-webkit-text-stroke:1.5px #0b0b0b;letter-spacing:0px;transform:scaleX(0.9444)">y calzado</div><div class="t" style="left:641.1px;top:2488.7px;font-size:126.82px;font-weight:normal;color:#0b0b0b;-webkit-text-stroke:1.5px #0b0b0b;letter-spacing:0px;transform:scaleX(0.9753)">Moda mujer</div><div class="t" style="left:641.0px;top:3186.4px;font-size:126.82px;font-weight:normal;color:#0b0b0b;-webkit-text-stroke:1.5px #0b0b0b;letter-spacing:0px;transform:scaleX(0.9864)">Moda infantil</div><div class="t" style="left:646.7px;top:3338.9px;font-size:126.82px;font-weight:normal;color:#0b0b0b;-webkit-text-stroke:1.5px #0b0b0b;letter-spacing:0px;transform:scaleX(0.9560)">y accesorios</div><div class="t" style="left:646.0px;top:4068.2px;font-size:126.82px;font-weight:normal;color:#0b0b0b;-webkit-text-stroke:1.5px #0b0b0b;letter-spacing:0px;transform:scaleX(0.9602)">Tecnología</div><div class="t" style="left:2915.4px;top:1855.4px;font-size:126.82px;font-weight:normal;color:#0b0b0b;-webkit-text-stroke:1.5px #0b0b0b;letter-spacing:0px;transform:scaleX(0.9478)">Moda</div><div class="t" style="left:2916.9px;top:2008.4px;font-size:126.82px;font-weight:normal;color:#0b0b0b;-webkit-text-stroke:1.5px #0b0b0b;letter-spacing:0px;transform:scaleX(0.9929)">hombre</div><div class="t" style="left:2922.4px;top:2741.9px;font-size:126.82px;font-weight:normal;color:#0b0b0b;-webkit-text-stroke:1.5px #0b0b0b;letter-spacing:0px;transform:scaleX(0.9478)">Moda</div><div class="t" style="left:2921.7px;top:2895.4px;font-size:126.82px;font-weight:normal;color:#0b0b0b;-webkit-text-stroke:1.5px #0b0b0b;letter-spacing:0px;transform:scaleX(1.0100)">juvenil</div><div class="t" style="left:2915.9px;top:3811.9px;font-size:126.82px;font-weight:normal;color:#0b0b0b;-webkit-text-stroke:1.5px #0b0b0b;letter-spacing:0px;transform:scaleX(0.9606)">Belleza</div><div class="t" style="left:229.1px;top:4764.0px;font-size:123.50px;font-weight:normal;color:#0b0b0b;letter-spacing:0px;transform:scaleX(0.8752)">FUENTE:</div><div class="t" style="left:714.0px;top:4764.0px;font-size:123.50px;font-weight:normal;color:#0b0b0b;letter-spacing:0px;transform:scaleX(0.9751)">Poken</div><div class="t" style="left:1077.5px;top:4764.0px;font-size:123.50px;font-weight:normal;color:#0b0b0b;letter-spacing:0px;transform:scaleX(0.9779)">Perú</div><div class="t" style="left:1354.1px;top:4764.0px;font-size:123.50px;font-weight:normal;color:#0b0b0b;letter-spacing:0px;transform:scaleX(0.9435)">Retail.</div><div class="t" style="left:1588.3px;top:1694.2px;font-size:107.64px;font-weight:bold;color:#fff;-webkit-text-stroke:3px #fff;letter-spacing:4px;transform:scaleX(0.9737)">4</div><div class="t" style="left:1682.6px;top:1694.2px;font-size:107.64px;font-weight:bold;color:#fff;-webkit-text-stroke:3px #fff;letter-spacing:4px;transform:scaleX(1.0687)">40</div><div class="t" style="left:1591.6px;top:2434.4px;font-size:107.64px;font-weight:bold;color:#fff;-webkit-text-stroke:3px #fff;letter-spacing:4px;transform:scaleX(1.0102)">9</div><div class="t" style="left:1684.6px;top:2434.4px;font-size:107.64px;font-weight:bold;color:#fff;-webkit-text-stroke:3px #fff;letter-spacing:4px;transform:scaleX(1.0112)">85</div><div class="t" style="left:1692.6px;top:3207.8px;font-size:107.64px;font-weight:bold;color:#fff;-webkit-text-stroke:3px #fff;letter-spacing:4px;transform:scaleX(0.9935)">65</div><div class="t" style="left:1592.1px;top:4003.1px;font-size:107.64px;font-weight:bold;color:#fff;-webkit-text-stroke:3px #fff;letter-spacing:4px;transform:scaleX(1.0021)">3</div><div class="t" style="left:1682.6px;top:4003.1px;font-size:107.64px;font-weight:bold;color:#fff;-webkit-text-stroke:3px #fff;letter-spacing:4px;transform:scaleX(1.0138)">70</div><div class="t" style="left:3681.0px;top:1931.7px;font-size:107.64px;font-weight:bold;color:#fff;-webkit-text-stroke:3px #fff;letter-spacing:4px;transform:scaleX(1.1258)">0</div><div class="t" style="left:3781.1px;top:1931.7px;font-size:107.64px;font-weight:bold;color:#fff;-webkit-text-stroke:3px #fff;letter-spacing:4px;transform:scaleX(1.0349)">69</div><div class="t" style="left:3688.5px;top:2837.5px;font-size:107.64px;font-weight:bold;color:#fff;-webkit-text-stroke:3px #fff;letter-spacing:4px;transform:scaleX(0.9737)">4</div><div class="t" style="left:3779.8px;top:2837.5px;font-size:107.64px;font-weight:bold;color:#fff;-webkit-text-stroke:3px #fff;letter-spacing:4px;transform:scaleX(1.0054)">70</div><div class="t" style="left:3639.1px;top:3761.1px;font-size:107.64px;font-weight:bold;color:#fff;-webkit-text-stroke:3px #fff;letter-spacing:4px;transform:scaleX(1.1239)">0</div><div class="t" style="left:3736.7px;top:3761.1px;font-size:107.64px;font-weight:bold;color:#fff;-webkit-text-stroke:3px #fff;letter-spacing:4px;transform:scaleX(1.0424)">38</div>
</body></html>
